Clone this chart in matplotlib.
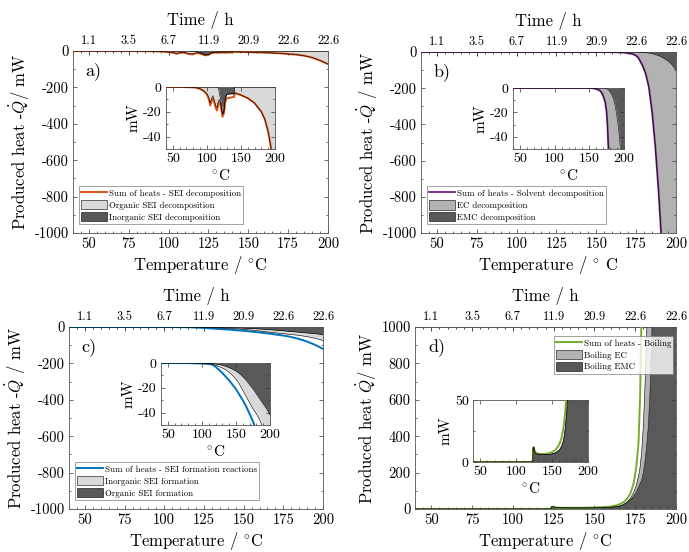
import numpy as np
import matplotlib.pyplot as plt
from matplotlib.patches import Patch
from matplotlib.lines import Line2D
from matplotlib.ticker import AutoMinorLocator

plt.rcParams['font.family'] = 'serif'
plt.rcParams['font.serif'] = ['cmr10']
plt.rcParams['mathtext.fontset'] = 'cm'
plt.rcParams['axes.unicode_minus'] = False

# ---------------------------------------------------------
# Data (temperature in degC, heat in mW)
# each panel: sum line, inner (dark) area edge, outer (stacked) area edge
# ---------------------------------------------------------
t_a = [40, 60, 80, 85, 90, 95, 100, 103, 105, 107, 109, 111, 113, 115, 117, 119,
       121, 123, 125, 127, 129, 131, 135, 140, 140.5, 145, 150, 160, 170, 180,
       185, 190, 195, 200]
sum_a = [0, 0, -0.3, -0.7, -1.5, -3, -6, -10, -15, -11, -9, -13, -17, -19, -13, -12,
         -18, -24, -21, -12, -9, -9, -8.5, -8, -5, -5.5, -6.5, -9, -13, -20,
         -26, -36, -52, -72]
dark_a = [0, 0, 0, 0, 0, 0, 0, 0, 0, 0, 0, 0, 0, 0, -1, -7,
          -12, -22, -19.5, -9, -6, -5.5, -5.5, -5.5, 0, 0, 0, 0, 0, 0,
          0, 0, 0, 0]
stack_a = [0, 0, -0.3, -0.7, -1.5, -3, -5.5, -8.5, -13, -9, -7, -11, -15, -16.5, -11, -10,
           -16, -22, -20, -9.5, -6, -6, -5.5, -5.5, -4.5, -5.5, -6.5, -9, -13, -20,
           -26, -36, -52, -72]

t_b = [40, 100, 150, 155, 160, 165, 168, 171, 173, 175, 176.5, 177.5, 179, 181, 183,
       185, 187, 189, 191, 193, 195, 197, 200]
sum_b = [0, 0, 0, -0.2, -0.8, -2, -4, -8, -12, -20, -34, -50, -75, -120, -195,
         -330, -520, -760, -1050, -1400, -1900, -2600, -4000]
dark_b = [0, 0, 0, 0, 0, 0, 0, 0, 0, -0.5, -1, -1.5, -2.5, -4, -6,
          -9, -14, -20, -28, -38, -50, -65, -100]
stack_b = sum_b

t_c = [40, 80, 100, 110, 115, 120, 125, 130, 135, 140, 145, 150, 155, 160, 165, 170,
       175, 180, 185, 190, 195, 200]
sum_c = [0, -0.1, -0.4, -0.8, -1.2, -3, -5.5, -8, -11, -14, -17.5, -21, -25.5, -30, -35, -41,
         -47, -55, -66, -80, -98, -120]
dark_c = [0, 0, -0.1, -0.3, -0.5, -0.8, -1.2, -1.8, -2.7, -3.8, -5, -6.5, -8.5, -11, -14, -17.5,
          -21, -25, -29, -33, -37, -42]
stack_c = [0, 0, -0.3, -0.7, -1, -1.8, -2.8, -4, -5.5, -7.5, -10, -13, -17, -22, -27, -32,
           -37, -41, -46, -53, -62, -74]

t_d = [40, 100, 123.4, 123.6, 124.5, 126, 128, 135, 140, 145, 150, 155, 160, 163, 166, 168,
       170, 172, 174, 175.5, 177, 178, 179, 180, 181, 182, 183, 184, 185, 186, 188,
       190, 195, 200]
sum_d = [0, 0, 0, 11, 12, 8.5, 7, 6.5, 6.5, 7, 8, 10, 14, 19, 28, 38,
         55, 85, 140, 220, 360, 620, 1150, 1800, 2500, 3500, 5000, 7000, 9000, 12000, 16000,
         20000, 30000, 40000]
dark_d = [0, 0, 0, 11, 12, 8, 6.5, 6, 6, 6, 6.5, 7.5, 9.5, 12, 17, 24,
          35, 50, 70, 90, 120, 140, 160, 200, 260, 340, 450, 620, 900, 1250, 2000,
          3000, 6000, 10000]
stack_d = [0, 0, 0, 11, 12, 8, 6.5, 6, 6, 6, 6.5, 7.5, 9.5, 12.5, 17.5, 26,
           38, 58, 90, 125, 180, 230, 320, 460, 680, 960, 1300, 1700, 2200, 2800, 3800,
           5000, 9000, 15000]

temp_ticks = [50, 75, 100, 125, 150, 175, 200]
time_labels = ['1.1', '3.5', '6.7', '11.9', '20.9', '22.6', '22.6']

light1 = '#d9d9d9'
light2 = '#b2b2b2'
dark = '#595959'

W, H = 689, 552


def rect(l, r, t, b):
    return [l / W, 1 - b / H, (r - l) / W, (b - t) / H]


def style(ax, fs):
    ax.tick_params(direction='in', which='both', top=False, right=True,
                   labelsize=fs, width=0.5, colors='#333333', pad=3)
    ax.tick_params(which='major', length=3)
    ax.tick_params(which='minor', length=1.5)
    ax.tick_params(labelcolor='black')
    for s in ax.spines.values():
        s.set_linewidth(0.6)
        s.set_color('#555555')
    ax.xaxis.set_minor_locator(AutoMinorLocator(5))
    ax.yaxis.set_minor_locator(AutoMinorLocator(2))


def draw(ax, t, s, d, st, color, lightc):
    t = np.array(t)
    d = np.array(d)
    st = np.array(st)
    ax.fill_between(t, 0, d, color=dark, lw=0)
    ax.fill_between(t, d, st, color=lightc, lw=0)
    ax.plot(t, s, color=color, lw=1.4, zorder=3)
    ax.plot(t, d, color='k', lw=0.4, zorder=4)
    ax.plot(t, st, color='k', lw=0.4, zorder=4)


panels = [
    (t_a, sum_a, dark_a, stack_a, '#D95319', light1, 'a)',
     r'Produced heat -$\dot{Q}$/ mW', r'Temperature / $^{\circ}$C',
     ['Sum of heats - SEI decomposition', 'Organic SEI decomposition',
      'Inorganic SEI decomposition'],
     rect(73, 328, 51, 233), rect(166, 275, 87, 149), -1),
    (t_b, sum_b, dark_b, stack_b, '#7E2F8E', light2, 'b)',
     r'Produced heat -$\dot{Q}$ / mW', r'Temperature / $^{\circ}$ C',
     ['Sum of heats - Solvent decomposition', 'EC decomposition',
      'EMC decomposition'],
     rect(421, 676, 52, 233), rect(513, 624, 88, 149), -1),
    (t_c, sum_c, dark_c, stack_c, '#0072BD', light1, 'c)',
     r'Produced heat -$\dot{Q}$ / mW', r'Temperature / $^{\circ}$C',
     ['Sum of heats - SEI formation reactions', 'Inorganic SEI formation',
      'Organic SEI formation'],
     rect(69, 323, 327, 509), rect(161, 270, 363, 425), -1),
    (t_d, sum_d, dark_d, stack_d, '#77AC30', light2, 'd)',
     r'Produced heat $\dot{Q}$/ mW', r'Temperature / $^{\circ}$C',
     ['Sum of heats - Boiling', 'Boiling EC', 'Boiling EMC'],
     rect(415, 676, 327, 509), rect(473, 588, 400, 462), 1),
]

fig = plt.figure(figsize=(6.89, 5.52), dpi=100)

for (t, s, d, st, col, lc, tag, ylab, xlab, labels, r_main, r_ins, sign) in panels:
    ax = fig.add_axes(r_main)
    draw(ax, t, s, d, st, col, lc)
    ax.set_xlim(40, 200)
    if sign < 0:
        ax.set_ylim(-1000, 0)
        yt = [-1000, -800, -600, -400, -200, 0]
    else:
        ax.set_ylim(0, 1000)
        yt = [0, 200, 400, 600, 800, 1000]
    ax.set_yticks(yt, [str(v) for v in yt])
    ax.set_xticks(temp_ticks, [str(v) for v in temp_ticks])
    style(ax, 10.5)
    ax.set_xlabel(xlab, fontsize=12, labelpad=2)
    ax.set_ylabel(ylab, fontsize=12, labelpad=2)
    ax.text(0.05, 0.89, tag, transform=ax.transAxes, fontsize=13, va='center')

    sec = ax.secondary_xaxis('top')
    sec.set_xticks(temp_ticks, time_labels)
    sec.tick_params(direction='in', length=3, width=0.5, labelsize=9, pad=3)
    sec.xaxis.set_minor_locator(AutoMinorLocator(5))
    sec.tick_params(which='minor', direction='in', length=1.5, width=0.5)
    sec.spines['top'].set_linewidth(0.6)
    sec.spines['top'].set_color('#555555')
    sec.set_xlabel('Time / h', fontsize=12, labelpad=7)

    handles = [Line2D([], [], color=col, lw=1.4),
               Patch(facecolor=lc, edgecolor='k', lw=0.4),
               Patch(facecolor=dark, edgecolor='k', lw=0.4)]
    opts = dict(fontsize=6.4, borderaxespad=0, handlelength=3.0, handleheight=1.2,
                labelspacing=0.25, borderpad=0.25, handletextpad=0.15, fancybox=False)
    if sign < 0:
        leg = ax.legend(handles, labels, loc='lower left', bbox_to_anchor=(0.022, 0.05), **opts)
    else:
        leg = ax.legend(handles, labels, loc='upper right', bbox_to_anchor=(0.99, 0.95), **opts)
    leg.get_frame().set_edgecolor('#777777')
    leg.get_frame().set_linewidth(0.6)

    ins = fig.add_axes(r_ins)
    draw(ins, t, s, d, st, col, lc)
    ins.set_xlim(40, 200)
    if sign < 0:
        ins.set_ylim(-50, 0)
        ins.set_yticks([-40, -20, 0], ['-40', '-20', '0'])
    else:
        ins.set_ylim(0, 50)
        ins.set_yticks([0, 50], ['0', '50'])
    ins.set_xticks([50, 100, 150, 200], ['50', '100', '150', '200'])
    style(ins, 10)
    ins.tick_params(top=True)
    ins.set_xlabel(r'$^{\circ}$C', fontsize=11, labelpad=2)
    ins.set_ylabel('mW', fontsize=11, labelpad=2)

fig.savefig('out.png', dpi=100)
